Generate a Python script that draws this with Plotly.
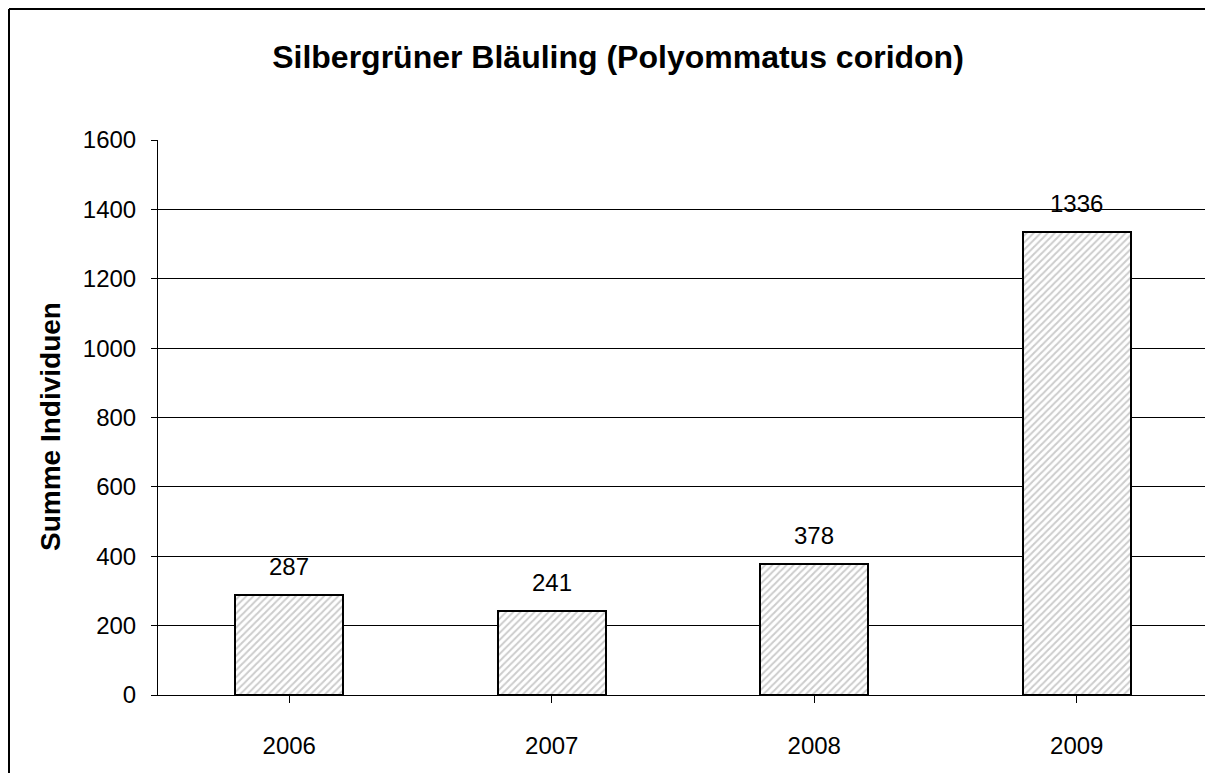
import plotly.graph_objects as go

years = ["2006", "2007", "2008", "2009"]
counts = [287, 241, 378, 1336]
y_ticks = [0, 200, 400, 600, 800, 1000, 1200, 1400, 1600]
title_text = "Silbergrüner Bläuling (Polyommatus coridon)"
y_title = "Summe Individuen"

W, H = 1205, 773
L, R, T, B = 158, 0, 140, 78
plot_w = W - L - R
plot_h = H - T - B
cat_px = 262.5

fig = go.Figure()
fig.add_trace(go.Bar(
    x=list(range(len(years))), y=counts, width=0.41,
    marker=dict(color="white", line=dict(color="black", width=2),
                pattern=dict(shape="/", fgcolor="#9a9a9a", bgcolor="white", size=5, solidity=0.4)),
    hoverinfo="skip",
))
for i, v in enumerate(counts):
    fig.add_annotation(x=i, y=v, text=str(v), showarrow=False, yanchor="bottom", yshift=13,
                       font=dict(size=24, color="black"))

fig.add_annotation(xref="paper", yref="paper", x=(50 - L) / plot_w, y=(H - B - 427) / plot_h,
                   text=f"<b>{y_title}</b>", textangle=-90, showarrow=False,
                   font=dict(size=28, color="black"), xanchor="center", yanchor="middle")

# outer frame: only left and top edges fall inside the visible window
x_left = (9 - L) / plot_w
y_top = (H - B - 9) / plot_h
fig.add_shape(type="line", xref="paper", yref="paper", x0=x_left, x1=x_left, y0=-0.5, y1=y_top,
              line=dict(color="black", width=2), layer="above")
fig.add_shape(type="line", xref="paper", yref="paper", x0=x_left, x1=1.5, y0=y_top, y1=y_top,
              line=dict(color="black", width=2), layer="above")

fig.update_layout(
    width=W, height=H, autosize=False,
    margin=dict(l=L, r=R, t=T, b=B),
    paper_bgcolor="white", plot_bgcolor="white",
    font=dict(family="Liberation Sans, Arial, sans-serif", color="black"),
    title=dict(text=f"<b>{title_text}</b>", x=(618 / W), xanchor="center", y=1 - 57 / H, yanchor="middle",
               font=dict(size=32, color="black")),
    showlegend=False,
    bargap=0,
    hovermode=False,
)
fig.update_xaxes(
    range=[-0.5, -0.5 + plot_w / cat_px],
    tickmode="array", tickvals=list(range(len(years))), ticktext=years,
    tickson="boundaries", ticks="outside", ticklen=7, tickcolor="black", tickwidth=1,
    showline=True, linecolor="black", linewidth=1, showgrid=False, zeroline=False,
    tickfont=dict(size=24), ticklabelstandoff=22, fixedrange=True,
)
fig.update_yaxes(
    range=[0, 1600], tickvals=y_ticks, ticks="outside", ticklen=6, tickcolor="black",
    showline=True, linecolor="black", linewidth=1,
    showgrid=True, gridcolor="black", gridwidth=1, zeroline=False,
    tickfont=dict(size=24), ticklabelstandoff=10, fixedrange=True,
)
fig.write_html(
    "out.html",
    config={"displayModeBar": False},
    post_script=("document.documentElement.style.overflow='hidden';"
                 "document.body.style.overflow='hidden';document.body.style.margin='0';"),
)
